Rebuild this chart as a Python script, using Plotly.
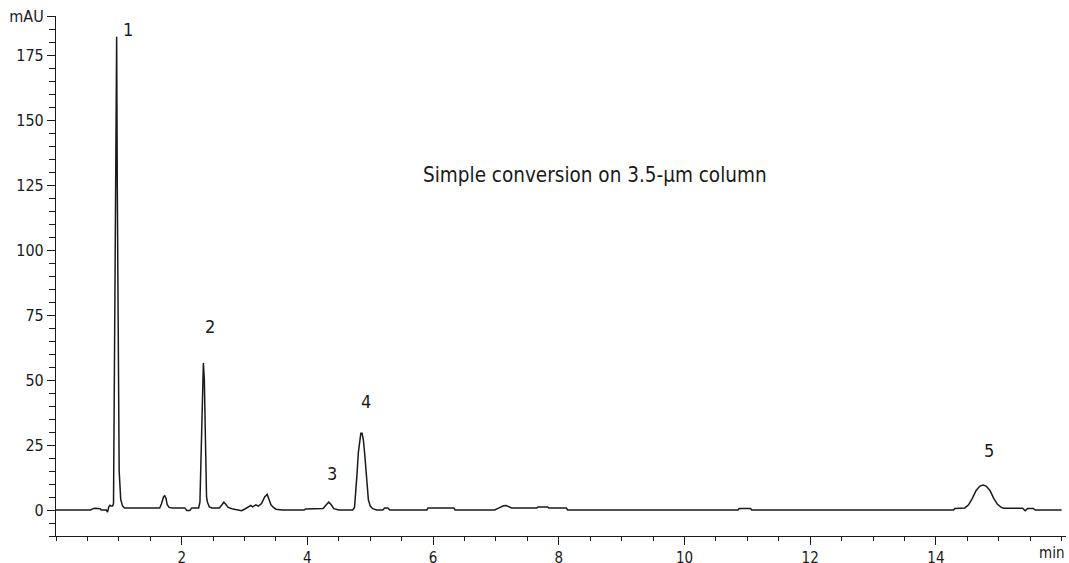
import plotly.graph_objects as go

# Chromatogram trace (time in min, absorbance in mAU)
time_min = [
    0.00, 0.55, 0.60, 0.63, 0.70, 0.72, 0.80, 0.82, 0.84, 0.86, 0.88, 0.90,
    0.915, 0.925, 0.945, 0.955, 0.965, 0.975, 0.99, 1.005, 1.03, 1.06, 1.09,
    1.65, 1.68, 1.71, 1.73, 1.75, 1.77, 1.80, 1.85,
    2.05, 2.08, 2.13, 2.16, 2.27, 2.29, 2.31, 2.33, 2.345, 2.36, 2.38, 2.395, 2.41, 2.44, 2.48,
    2.60, 2.64, 2.67, 2.70, 2.74, 2.80, 2.90, 2.95, 3.00, 3.05, 3.10, 3.13, 3.18, 3.22,
    3.27, 3.32, 3.36, 3.39, 3.42, 3.46, 3.50, 3.60,
    3.95, 3.97, 4.20, 4.25, 4.30, 4.34, 4.38, 4.42, 4.50,
    4.72, 4.75, 4.77, 4.79, 4.81, 4.83, 4.85, 4.87, 4.89, 4.91, 4.93, 4.95, 4.97, 5.00, 5.04, 5.10,
    5.20, 5.23, 5.28, 5.31, 5.90, 5.92, 6.33, 6.35,
    6.98, 7.05, 7.12, 7.16, 7.20, 7.25, 7.65, 7.67, 7.82, 7.84, 8.12, 8.14,
    10.85, 10.87, 11.05, 11.07,
    14.28, 14.30, 14.46, 14.52, 14.58, 14.64, 14.70, 14.75, 14.80, 14.86, 14.92, 14.98,
    15.04, 15.08, 15.38, 15.42, 15.46, 15.55, 15.58, 16.00,
]
absorbance_mau = [
    0.0, 0.0, 0.6, 0.7, 0.5, 0.0, 0.0, -0.8, 1.2, 1.8, 1.5, 1.5,
    2.5, 40.0, 140.0, 182.0, 182.0, 125.0, 45.0, 15.0, 4.0, 1.5, 0.8,
    0.8, 2.5, 5.0, 5.5, 4.5, 2.0, 1.0, 0.8,
    0.8, -0.2, -0.2, 0.8, 0.8, 3.0, 25.0, 50.0, 56.5, 50.0, 20.0, 5.0, 3.0, 1.2, 0.8,
    0.8, 2.0, 3.0, 2.2, 1.0, 0.5, 0.0, -0.3, 0.3, 1.0, 1.8, 1.2, 2.0, 1.5,
    2.5, 5.0, 6.0, 4.0, 2.0, 1.0, 0.3, 0.0,
    0.0, 0.4, 0.4, 0.6, 2.0, 3.0, 2.0, 0.5, 0.0,
    0.0, 1.0, 6.0, 14.0, 22.0, 26.0, 29.5, 29.5, 27.0, 22.0, 15.0, 8.0, 4.0, 1.5, 0.5, 0.0,
    0.0, 0.8, 0.8, 0.0, 0.0, 0.8, 0.8, 0.0,
    0.0, 0.8, 1.6, 1.7, 1.2, 0.8, 0.8, 1.2, 1.2, 0.8, 0.8, 0.0,
    0.0, 0.6, 0.6, 0.0,
    0.0, 0.6, 0.8, 2.0, 4.5, 7.5, 9.2, 9.6, 9.2, 7.5, 4.5, 2.2,
    1.0, 0.7, 0.7, -0.3, 0.6, 0.6, 0.0, 0.0,
]

peak_labels = ["1", "2", "3", "4", "5"]
peak_label_x = [1.14, 2.45, 4.39, 4.93, 14.84]
peak_label_y = [185.0, 70.4, 14.2, 41.9, 23.0]

x_tick_vals = [2, 4, 6, 8, 10, 12, 14]
x_tick_text = ["2", "4", "6", "8", "10", "12", "14"]
y_tick_vals = [0, 25, 50, 75, 100, 125, 150, 175, 190]
y_tick_text = ["0", "25", "50", "75", "100", "125", "150", "175", "mAU"]

title_text = "Simple conversion on 3.5-µm column"

FONT = "DejaVu Sans Condensed, Liberation Sans Narrow, Arial Narrow, sans-serif"
INK = "#1a1a1a"

fig = go.Figure()
fig.add_trace(go.Scatter(
    x=time_min, y=absorbance_mau, mode="lines",
    line=dict(color=INK, width=1.5), hoverinfo="skip", showlegend=False,
))

for t, xx, yy in zip(peak_labels, peak_label_x, peak_label_y):
    fig.add_annotation(x=xx, y=yy, text=t, showarrow=False,
                       font=dict(family=FONT, size=18, color=INK))

fig.add_annotation(x=8.58, y=128.8, text=title_text, showarrow=False,
                   font=dict(family=FONT, size=20.5, color=INK))

fig.add_annotation(x=1.0, xref="paper", y=-10, yref="y", text="min",
                   showarrow=False, xanchor="right", yanchor="top", yshift=-6,
                   font=dict(family=FONT, size=15, color=INK))

fig.update_layout(
    width=1069, height=563,
    margin=dict(l=56, r=3, t=16, b=27),
    paper_bgcolor="white", plot_bgcolor="white",
    font=dict(family=FONT, size=16, color=INK),
    xaxis=dict(
        range=[0, 16.07], showgrid=False, zeroline=False, automargin=False,
        showline=True, linecolor=INK, linewidth=1.2,
        tickmode="array", tickvals=x_tick_vals, ticktext=x_tick_text,
        ticks="outside", ticklen=8, tickcolor=INK, tickwidth=1.2,
        ticklabelstandoff=0,
        minor=dict(tick0=0, dtick=0.5, ticks="outside", ticklen=4,
                   tickcolor=INK, tickwidth=1.2, showgrid=False),
        tickfont=dict(family=FONT, size=15, color=INK),
    ),
    yaxis=dict(
        range=[-10, 190], showgrid=False, zeroline=False, automargin=False,
        showline=True, linecolor=INK, linewidth=1.2,
        tickmode="array", tickvals=y_tick_vals, ticktext=y_tick_text,
        ticks="outside", ticklen=8, tickcolor=INK, tickwidth=1.2,
        minor=dict(tick0=0, dtick=5, ticks="outside", ticklen=6,
                   tickcolor=INK, tickwidth=1.2, showgrid=False),
        tickfont=dict(family=FONT, size=16, color=INK),
    ),
)

fig.write_html("out.html")
